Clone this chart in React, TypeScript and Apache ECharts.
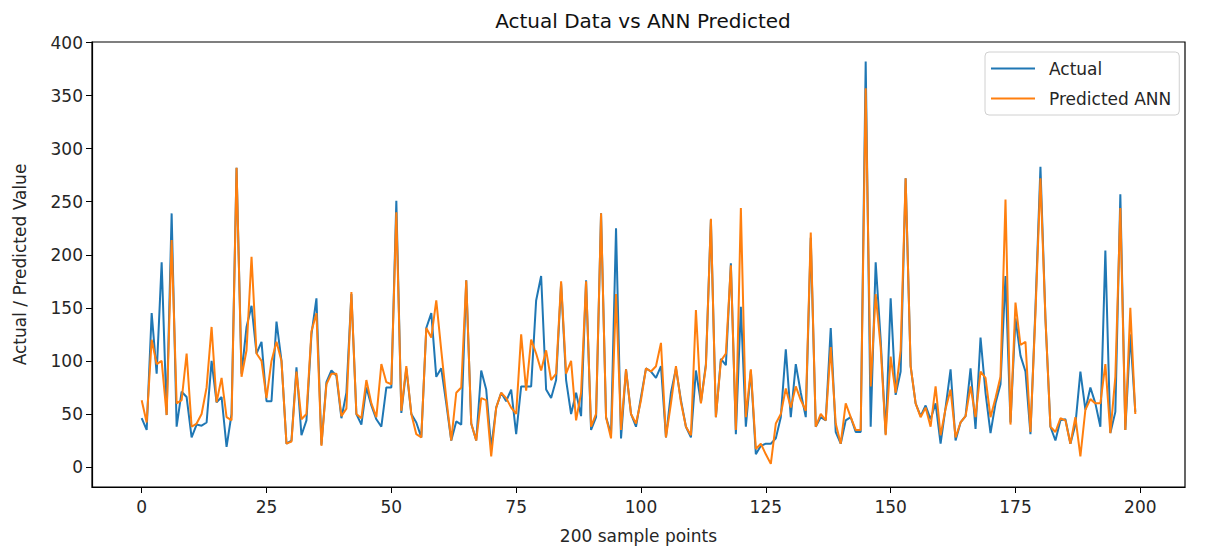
import React, { useEffect, useRef } from "react";
import * as echarts from "echarts";

const actual: number[] = [
  46, 35, 145, 88, 193, 49, 239, 38, 71, 66,
  28, 40, 39, 42, 100, 61, 66, 19, 50, 282,
  88, 132, 152, 107, 118, 62, 62, 137, 100, 22,
  25, 94, 30, 44, 125, 159, 21, 80, 91, 86,
  46, 70, 163, 50, 40, 75, 58, 45, 38, 75,
  75, 251, 51, 93, 50, 42, 28, 131, 145, 85,
  93, 60, 25, 43, 40, 176, 41, 25, 91, 73,
  18, 56, 70, 62, 73, 31, 76, 76, 76, 157,
  180, 73, 65, 82, 173, 82, 50, 70, 48, 176,
  35, 47, 239, 47, 31, 225, 27, 92, 50, 38,
  66, 93, 90, 84, 95, 28, 70, 93, 63, 38,
  28, 91, 61, 97, 233, 47, 102, 96, 192, 31,
  151, 38, 91, 12, 20, 22, 22, 27, 47, 111,
  47, 97, 70, 47, 216, 38, 47, 44, 131, 33,
  22, 44, 47, 33, 33, 382, 38, 193, 120, 31,
  159, 68, 90, 272, 95, 60, 48, 58, 45, 60,
  22, 56, 92, 25, 42, 48, 93, 36, 122, 70,
  32, 60, 78, 180, 42, 140, 105, 90, 31, 150,
  283, 140, 38, 25, 44, 45, 22, 40, 90, 54,
  75, 60, 38, 204, 32, 52, 257, 35, 125, 52,
];

const predicted: number[] = [
  63, 42, 120, 97, 100, 49, 214, 60, 63, 107,
  38, 41, 50, 75, 132, 61, 84, 47, 44, 282,
  85, 110, 198, 107, 100, 65, 100, 118, 100, 22,
  24, 90, 45, 50, 128, 145, 20, 78, 88, 88,
  48, 55, 165, 50, 46, 82, 60, 47, 97, 80,
  78, 240, 53, 95, 50, 31, 28, 131, 122, 157,
  110, 65, 25, 70, 75, 176, 41, 25, 65, 63,
  10, 56, 70, 65, 56, 50, 125, 72, 120, 107,
  91, 110, 82, 88, 175, 88, 100, 44, 70, 175,
  38, 50, 239, 47, 27, 163, 35, 92, 50, 41,
  63, 93, 90, 95, 117, 28, 60, 95, 61, 38,
  30, 148, 60, 95, 234, 47, 100, 107, 190, 35,
  244, 47, 92, 17, 22, 12, 3, 41, 50, 74,
  56, 76, 63, 53, 221, 38, 50, 44, 113, 41,
  22, 60, 47, 35, 35, 357, 76, 163, 113, 30,
  104, 70, 110, 272, 95, 60, 47, 56, 38, 76,
  30, 55, 73, 28, 42, 48, 76, 47, 90, 84,
  47, 65, 85, 252, 40, 155, 115, 118, 33, 145,
  272, 140, 38, 33, 46, 44, 22, 47, 10, 54,
  64, 60, 60, 97, 32, 85, 244, 35, 150, 50,
];

const xTicks: number[] = [0, 25, 50, 75, 100, 125, 150, 175, 200];
const yTicks: number[] = [0, 50, 100, 150, 200, 250, 300, 350, 400];

const FONT = "DejaVu Sans";
const TXT = "#262626";

export default function App() {
  const ref = useRef<HTMLDivElement>(null);
  useEffect(() => {
    if (!ref.current) return;
    const chart = echarts.init(ref.current, undefined, { renderer: "svg" });
    const n = actual.length;
    const pad = (n - 1) * 0.05;
    chart.setOption({
      animation: false,
      backgroundColor: "#ffffff",
      title: {
        text: "Actual Data vs ANN Predicted",
        left: 638,
        top: 6,
        textAlign: "center",
        textStyle: { fontFamily: FONT, fontSize: 20, fontWeight: "normal", color: "#111" },
      },
      legend: {
        left: 985,
        top: 52,
        orient: "vertical",
        icon: "rect",
        itemWidth: 44,
        itemHeight: 2,
        itemGap: 13,
        padding: [8, 8, 8, 6],
        backgroundColor: "#ffffff",
        borderColor: "#d0d0d0",
        borderWidth: 1,
        borderRadius: 4,
        textStyle: { fontFamily: FONT, fontSize: 17, color: TXT, padding: [0, 0, 0, 9] },
        data: ["Actual", "Predicted ANN"],
      },
      grid: {
        left: 92,
        right: 28,
        top: 42,
        bottom: 70,
        show: true,
        borderColor: "#000",
        borderWidth: 1.2,
        backgroundColor: "transparent",
      },
      xAxis: {
        type: "value",
        min: -pad,
        max: n - 1 + pad,
        name: "200 sample points",
        nameLocation: "middle",
        nameGap: 40,
        nameTextStyle: { fontFamily: FONT, fontSize: 17, color: TXT },
        axisLine: { show: true, onZero: false, lineStyle: { color: "#000", width: 1.2 } },
        axisTick: { show: true, inside: false, length: 6, customValues: xTicks, lineStyle: { color: "#000" } },
        axisLabel: {
          customValues: xTicks,
          margin: 11,
          fontFamily: FONT,
          fontSize: 17,
          color: TXT,
        },
        splitLine: { show: false },
      },
      yAxis: {
        type: "value",
        min: -18.8,
        max: 400.5,
        name: "Actual / Predicted Value",
        nameLocation: "middle",
        nameGap: 64,
        nameTextStyle: { fontFamily: FONT, fontSize: 17, color: TXT },
        axisLine: { show: true, onZero: false, lineStyle: { color: "#000", width: 1.2 } },
        axisTick: { show: true, inside: false, length: 6, customValues: yTicks, lineStyle: { color: "#000" } },
        axisLabel: {
          customValues: yTicks,
          margin: 9,
          fontFamily: FONT,
          fontSize: 17,
          color: TXT,
        },
        splitLine: { show: false },
      },
      series: [
        {
          name: "Actual",
          type: "line",
          symbol: "none",
          color: "#1f77b4",
          lineStyle: { width: 2, color: "#1f77b4" },
          data: actual.map((v, i) => [i, v]),
          z: 2,
        },
        {
          name: "Predicted ANN",
          type: "line",
          symbol: "none",
          color: "#ff7f0e",
          lineStyle: { width: 2, color: "#ff7f0e" },
          data: predicted.map((v, i) => [i, v]),
          z: 3,
        },
      ],
    });
    return () => chart.dispose();
  }, []);
  return (
    <div
      ref={ref}
      style={{ position: "fixed", left: 0, top: 0, width: 1213, height: 557, background: "#fff" }}
    />
  );
}
